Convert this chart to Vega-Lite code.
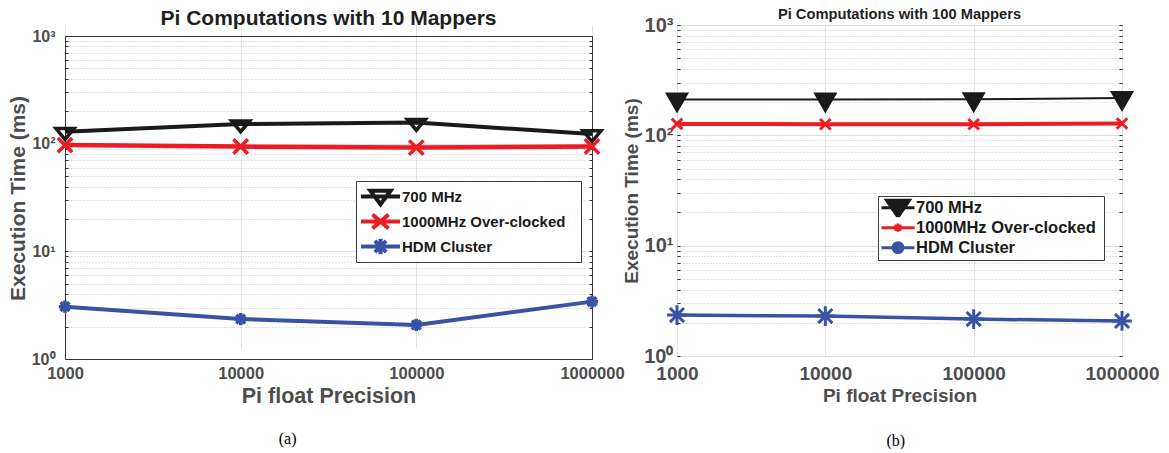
{
  "$schema": "https://vega.github.io/schema/vega-lite/v6.json",
  "padding": {"left": 7, "top": 6, "right": 0, "bottom": 0},
  "background": "white",
  "spacing": -3,
  "datasets": {
    "a": [
      {"precision": 1000, "time": 129, "series": "700 MHz"},
      {"precision": 10000, "time": 152, "series": "700 MHz"},
      {"precision": 100000, "time": 157, "series": "700 MHz"},
      {"precision": 1000000, "time": 123, "series": "700 MHz"},
      {"precision": 1000, "time": 97, "series": "1000MHz Over-clocked"},
      {"precision": 10000, "time": 94, "series": "1000MHz Over-clocked"},
      {"precision": 100000, "time": 92, "series": "1000MHz Over-clocked"},
      {"precision": 1000000, "time": 94, "series": "1000MHz Over-clocked"},
      {"precision": 1000, "time": 3.06, "series": "HDM Cluster"},
      {"precision": 10000, "time": 2.35, "series": "HDM Cluster"},
      {"precision": 100000, "time": 2.07, "series": "HDM Cluster"},
      {"precision": 1000000, "time": 3.41, "series": "HDM Cluster"}
    ],
    "b": [
      {"precision": 1000, "time": 211, "series": "700 MHz"},
      {"precision": 10000, "time": 211, "series": "700 MHz"},
      {"precision": 100000, "time": 212, "series": "700 MHz"},
      {"precision": 1000000, "time": 218, "series": "700 MHz"},
      {"precision": 1000, "time": 127, "series": "1000MHz Over-clocked"},
      {"precision": 10000, "time": 126, "series": "1000MHz Over-clocked"},
      {"precision": 100000, "time": 126, "series": "1000MHz Over-clocked"},
      {"precision": 1000000, "time": 128, "series": "1000MHz Over-clocked"},
      {"precision": 1000, "time": 2.35, "series": "HDM Cluster"},
      {"precision": 10000, "time": 2.30, "series": "HDM Cluster"},
      {"precision": 100000, "time": 2.16, "series": "HDM Cluster"},
      {"precision": 1000000, "time": 2.08, "series": "HDM Cluster"}
    ]
  },
  "resolve": {
    "scale": {"shape": "independent", "fill": "independent", "stroke": "independent"},
    "legend": {"shape": "independent", "fill": "independent", "stroke": "independent"}
  },
  "hconcat": [
    {
      "title": {"text": "(a)", "orient": "bottom", "font": "Liberation Serif", "fontSize": 16, "fontWeight": "normal", "color": "#000000", "offset": 24, "anchor": "middle", "dx": -28},
      "resolve": {
        "scale": {"shape": "independent", "stroke": "independent"},
        "legend": {"shape": "independent", "stroke": "independent"}
      },
      "vconcat": [
        {
          "width": 527,
          "height": 334,
          "view": {"stroke": null},
          "data": {"name": "a"},
          "title": {"text": "Pi Computations with 10 Mappers", "fontSize": 21, "offset": -4, "frame": "group"},
          "encoding": {
            "y": {
              "field": "time", "type": "quantitative",
              "scale": {"type": "log", "domain": [1, 1000], "nice": false, "range": [334, 11]}
            }
          },
          "layer": [
            {
              "transform": [{"filter": "datum.series === '700 MHz'"}],
              "mark": {"type": "line", "strokeWidth": 4, "color": "#1a1a1a"},
              "encoding": {
                "x": {
                  "field": "precision", "type": "quantitative",
                  "scale": {"type": "log", "domain": [1000, 1000000], "nice": false},
                  "axis": {"orient": "bottom", "values": [1000, 10000, 100000, 1000000], "format": "d", "labelFontSize": 16.5, "labelPadding": 6, "ticks": false, "grid": true, "gridColor": "#e3e3e3", "labelOverlap": false, "labelFlush": false, "domain": true, "domainColor": "#333333", "domainWidth": 1, "title": "Pi float Precision", "titleFontSize": 21.5, "titlePadding": 4}
                },
                "y": {
                  "field": "time", "type": "quantitative",
                  "axis": {
                    "orient": "left",
                    "values": [1, 2, 3, 4, 5, 6, 7, 8, 9, 10, 20, 30, 40, 50, 60, 70, 80, 90, 100, 200, 300, 400, 500, 600, 700, 800, 900, 1000],
                    "labelExpr": "datum.value == 1 ? '10⁰' : datum.value == 10 ? '10¹' : datum.value == 100 ? '10²' : datum.value == 1000 ? '10³' : ''",
                    "labelFontSize": 16, "labelPadding": 13, "labelOverlap": false,
                    "ticks": true, "tickSize": -3, "tickColor": "#333333",
                    "domain": true, "domainColor": "#333333", "domainWidth": 1,
                    "grid": true,
                    "gridColor": {"condition": {"test": "datum.value == 1 || datum.value == 10 || datum.value == 100 || datum.value == 1000", "value": "#dedede"}, "value": "#c4c4c4"},
                    "gridDash": {"condition": {"test": "datum.value == 1 || datum.value == 10 || datum.value == 100 || datum.value == 1000", "value": []}, "value": [1, 2]},
                    "title": "Execution Time (ms)", "titleFontSize": 21, "titlePadding": 3, "titleY": 173
                  }
                }
              }
            },
            {
              "transform": [{"filter": "datum.series === '1000MHz Over-clocked'"}],
              "mark": {"type": "line", "strokeWidth": 4.5, "color": "#ed1c24"},
              "encoding": {
                "x": {
                  "field": "precision", "type": "quantitative",
                  "scale": {"type": "log", "domain": [1000, 1000000], "nice": false},
                  "axis": {"orient": "top", "offset": -11, "labels": false, "ticks": false, "grid": false, "domain": true, "domainColor": "#333333", "domainWidth": 1, "title": null}
                },
                "y": {
                  "field": "time", "type": "quantitative",
                  "axis": {
                    "orient": "right",
                    "values": [1, 2, 3, 4, 5, 6, 7, 8, 9, 10, 20, 30, 40, 50, 60, 70, 80, 90, 100, 200, 300, 400, 500, 600, 700, 800, 900, 1000],
                    "labels": false, "grid": false, "title": null,
                    "domain": true, "domainColor": "#333333", "domainWidth": 1,
                    "ticks": true, "tickSize": -3, "tickColor": "#333333"
                  }
                }
              }
            },
            {
              "transform": [{"filter": "datum.series === 'HDM Cluster'"}],
              "mark": {"type": "line", "strokeWidth": 4, "color": "#3953a4"},
              "encoding": {
                "x": {"field": "precision", "type": "quantitative", "axis": null},
                "y": {"field": "time", "type": "quantitative", "axis": null}
              }
            },
            {
              "mark": {"type": "point", "size": 324, "strokeWidth": 3.5, "filled": false, "opacity": 1, "fill": "transparent"},
              "encoding": {
                "x": {"field": "precision", "type": "quantitative", "axis": null},
                "y": {"field": "time", "type": "quantitative", "axis": null},
                "stroke": {
                  "field": "series", "type": "nominal",
                  "scale": {"domain": ["700 MHz", "1000MHz Over-clocked", "HDM Cluster"], "range": ["#1a1a1a", "#ed1c24", "#3953a4"]},
                  "legend": null
                },
                "shape": {
                  "field": "series", "type": "nominal",
                  "scale": {
                    "domain": ["700 MHz", "1000MHz Over-clocked", "HDM Cluster"],
                    "range": [
                      "M-1,-0.35L1,-0.35L0,0.85Z",
                      "M-0.8,-0.8L0.8,0.8M-0.8,0.8L0.8,-0.8",
                      "M0,-0.68V0.68M-0.68,0H0.68M-0.49,-0.49L0.49,0.49M-0.49,0.49L0.49,-0.49"
                    ]
                  },
                  "legend": null
                }
              }
            },
            {
              "mark": {"type": "point", "size": 289, "strokeWidth": 4, "filled": false, "opacity": 0, "fill": "transparent"},
              "encoding": {
                "x": {"field": "precision", "type": "quantitative", "axis": null},
                "y": {"field": "time", "type": "quantitative", "axis": null},
                "stroke": {
                  "field": "series", "type": "nominal",
                  "scale": {"domain": ["700 MHz", "1000MHz Over-clocked", "HDM Cluster"], "range": ["#1a1a1a", "#ed1c24", "#3953a4"]},
                  "legend": {
                    "orient": "none", "legendX": 291, "legendY": 156, "direction": "vertical",
                    "title": "\u00a0", "titleOrient": "right", "titlePadding": 13, "titleFontSize": 1,
                    "symbolSize": 1521, "symbolStrokeWidth": 4, "symbolOpacity": 1,
                    "clipHeight": 25, "rowPadding": 0, "padding": 3,
                    "labelFont": "Liberation Sans", "labelFontSize": 15, "labelFontWeight": "bold", "labelColor": "#1a1a1a",
                    "labelOffset": 0, "labelLimit": 400,
                    "strokeColor": "#3c3c3c", "fillColor": "#ffffff"
                  }
                },
                "shape": {
                  "field": "series", "type": "nominal",
                  "scale": {
                    "domain": ["700 MHz", "1000MHz Over-clocked", "HDM Cluster"],
                    "range": [
                      "M-1,0H1M-0.52,-0.3L0.52,-0.3L0,0.4Z",
                      "M-1,0H1M-0.41,-0.36L0.41,0.36M-0.41,0.36L0.41,-0.36",
                      "M-1,0H1M0,-0.4V0.4M-0.4,0H0.4M-0.29,-0.29L0.29,0.29M-0.29,0.29L0.29,-0.29"
                    ]
                  },
                  "legend": {
                    "orient": "none", "legendX": 291, "legendY": 156, "direction": "vertical",
                    "title": "\u00a0", "titleOrient": "right", "titlePadding": 13, "titleFontSize": 1,
                    "symbolSize": 1521, "symbolStrokeWidth": 4, "symbolOpacity": 1,
                    "clipHeight": 25, "rowPadding": 0, "padding": 3,
                    "labelFont": "Liberation Sans", "labelFontSize": 15, "labelFontWeight": "bold", "labelColor": "#1a1a1a",
                    "labelOffset": 0, "labelLimit": 400,
                    "strokeColor": "#3c3c3c", "fillColor": "#ffffff"
                  }
                }
              }
            }
          ],
          "resolve": {
            "axis": {"x": "independent", "y": "independent"},
            "scale": {"shape": "independent", "stroke": "independent"},
            "legend": {"shape": "independent", "stroke": "independent"}
          }
        }
      ]
    },
    {
      "title": {"text": "(b)", "orient": "bottom", "font": "Liberation Serif", "fontSize": 16, "fontWeight": "normal", "color": "#000000", "offset": 27, "anchor": "middle", "dx": 5},
      "resolve": {
        "scale": {"fill": "independent", "stroke": "independent", "shape": "independent"},
        "legend": {"fill": "independent", "stroke": "independent", "shape": "independent"}
      },
      "vconcat": [
        {
          "width": 445,
          "height": 331,
          "data": {"name": "b"},
          "title": {"text": "Pi Computations with 100 Mappers", "fontSize": 14.7, "offset": -7, "frame": "group"},
          "encoding": {
            "x": {
              "field": "precision", "type": "quantitative",
              "scale": {"type": "log", "domain": [1000, 1000000], "nice": false},
              "axis": {"values": [1000, 10000, 100000, 1000000], "format": "d", "labelFontSize": 19, "labelPadding": 8, "ticks": false, "grid": true, "gridColor": "#e3e3e3", "labelOverlap": false, "labelFlush": false, "title": "Pi float Precision", "titleFontSize": 19, "titlePadding": 3}
            },
            "y": {
              "field": "time", "type": "quantitative",
              "scale": {"type": "log", "domain": [1, 1000], "nice": false}
            }
          },
          "layer": [
            {
              "transform": [{"filter": "datum.series === '700 MHz'"}],
              "mark": {"type": "line", "strokeWidth": 2, "color": "#1a1a1a"},
              "encoding": {
                "y": {
                  "field": "time", "type": "quantitative",
                  "axis": {
                    "orient": "left",
                    "values": [1, 2, 3, 4, 5, 6, 7, 8, 9, 10, 20, 30, 40, 50, 60, 70, 80, 90, 100, 200, 300, 400, 500, 600, 700, 800, 900, 1000],
                    "labelExpr": "datum.value == 1 ? '10⁰' : datum.value == 10 ? '10¹' : datum.value == 100 ? '10²' : datum.value == 1000 ? '10³' : ''",
                    "labelFontSize": 20, "labelPadding": 7, "labelOverlap": false,
                    "ticks": true, "tickSize": -3, "tickColor": "#333333",
                    "grid": true,
                    "gridColor": {"condition": {"test": "datum.value == 1 || datum.value == 10 || datum.value == 100 || datum.value == 1000", "value": "#dedede"}, "value": "#c4c4c4"},
                    "gridDash": {"condition": {"test": "datum.value == 1 || datum.value == 10 || datum.value == 100 || datum.value == 1000", "value": []}, "value": [1, 2]},
                    "title": "Execution Time (ms)", "titleFontSize": 19, "titlePadding": 2
                  }
                }
              }
            },
            {
              "transform": [{"filter": "datum.series === '1000MHz Over-clocked'"}],
              "mark": {"type": "line", "strokeWidth": 4, "color": "#ed1c24"},
              "encoding": {
                "y": {
                  "field": "time", "type": "quantitative",
                  "axis": {
                    "orient": "right",
                    "values": [1, 2, 3, 4, 5, 6, 7, 8, 9, 10, 20, 30, 40, 50, 60, 70, 80, 90, 100, 200, 300, 400, 500, 600, 700, 800, 900, 1000],
                    "labels": false, "grid": false, "domain": false, "title": null,
                    "ticks": true, "tickSize": -3, "tickColor": "#333333"
                  }
                }
              }
            },
            {
              "transform": [{"filter": "datum.series === 'HDM Cluster'"}],
              "mark": {"type": "line", "strokeWidth": 3.5, "color": "#3953a4"},
              "encoding": {"y": {"field": "time", "type": "quantitative", "axis": null}}
            },
            {
              "mark": {"type": "point", "size": 484, "strokeWidth": 3, "opacity": 1},
              "encoding": {
                "y": {"field": "time", "type": "quantitative", "axis": null},
                "fill": {
                  "field": "series", "type": "nominal",
                  "scale": {"domain": ["700 MHz", "1000MHz Over-clocked", "HDM Cluster"], "range": ["#1a1a1a", "#ed1c24", "#3953a4"]},
                  "legend": null
                },
                "stroke": {
                  "field": "series", "type": "nominal",
                  "scale": {"domain": ["700 MHz", "1000MHz Over-clocked", "HDM Cluster"], "range": ["#1a1a1a", "#ed1c24", "#3953a4"]},
                  "legend": null
                },
                "shape": {
                  "field": "series", "type": "nominal",
                  "scale": {
                    "domain": ["700 MHz", "1000MHz Over-clocked", "HDM Cluster"],
                    "range": [
                      "M-0.86,-0.5L0.86,-0.5L0,1Z",
                      "M-0.48,-0.48L0.48,0.48M-0.48,0.48L0.48,-0.48",
                      "M0,-0.9V0.9M-0.9,0H0.9M-0.64,-0.64L0.64,0.64M-0.64,0.64L0.64,-0.64"
                    ]
                  },
                  "legend": null
                }
              }
            },
            {
              "mark": {"type": "point", "size": 484, "strokeWidth": 3, "opacity": 0},
              "encoding": {
                "y": {"field": "time", "type": "quantitative", "axis": null},
                "fill": {
                  "field": "series", "type": "nominal",
                  "scale": {"domain": ["700 MHz", "1000MHz Over-clocked", "HDM Cluster"], "range": ["#1a1a1a", "transparent", "#3953a4"]},
                  "legend": {
                    "orient": "none", "legendX": 201, "legendY": 171, "direction": "vertical",
                    "title": "\u00a0", "titleOrient": "right", "titlePadding": 6, "titleFontSize": 1,
                    "symbolSize": 1089, "symbolStrokeWidth": 3, "symbolOpacity": 1,
                    "clipHeight": 19.3, "rowPadding": 0, "padding": 2,
                    "labelFont": "Liberation Sans", "labelFontSize": 16.5, "labelFontWeight": "bold", "labelColor": "#1a1a1a",
                    "labelOffset": 0, "labelLimit": 400,
                    "strokeColor": "#3c3c3c", "fillColor": "#ffffff"
                  }
                },
                "stroke": {
                  "field": "series", "type": "nominal",
                  "scale": {"domain": ["700 MHz", "1000MHz Over-clocked", "HDM Cluster"], "range": ["#1a1a1a", "#ed1c24", "#3953a4"]},
                  "legend": {
                    "orient": "none", "legendX": 201, "legendY": 171, "direction": "vertical",
                    "title": "\u00a0", "titleOrient": "right", "titlePadding": 6, "titleFontSize": 1,
                    "symbolSize": 1089, "symbolStrokeWidth": 3, "symbolOpacity": 1,
                    "clipHeight": 19.3, "rowPadding": 0, "padding": 2,
                    "labelFont": "Liberation Sans", "labelFontSize": 16.5, "labelFontWeight": "bold", "labelColor": "#1a1a1a",
                    "labelOffset": 0, "labelLimit": 400,
                    "strokeColor": "#3c3c3c", "fillColor": "#ffffff"
                  }
                },
                "shape": {
                  "field": "series", "type": "nominal",
                  "scale": {
                    "domain": ["700 MHz", "1000MHz Over-clocked", "HDM Cluster"],
                    "range": [
                      "M-1,0H1M-0.7,-0.45L0.7,-0.45L0,0.58Z",
                      "M-1,0H1M0,-0.25V0.25M-0.22,-0.13L0.22,0.13M-0.22,0.13L0.22,-0.13",
                      "M-1,0H1M0.3,0A0.3,0.3,0,1,1,-0.3,0A0.3,0.3,0,1,1,0.3,0Z"
                    ]
                  },
                  "legend": {
                    "orient": "none", "legendX": 201, "legendY": 171, "direction": "vertical",
                    "title": "\u00a0", "titleOrient": "right", "titlePadding": 6, "titleFontSize": 1,
                    "symbolSize": 1089, "symbolStrokeWidth": 3, "symbolOpacity": 1,
                    "clipHeight": 19.3, "rowPadding": 0, "padding": 2,
                    "labelFont": "Liberation Sans", "labelFontSize": 16.5, "labelFontWeight": "bold", "labelColor": "#1a1a1a",
                    "labelOffset": 0, "labelLimit": 400,
                    "strokeColor": "#3c3c3c", "fillColor": "#ffffff"
                  }
                }
              }
            }
          ],
          "resolve": {
            "axis": {"y": "independent"},
            "scale": {"shape": "independent", "stroke": "independent", "fill": "independent"},
            "legend": {"shape": "independent", "stroke": "independent", "fill": "independent"}
          }
        }
      ]
    }
  ],
  "config": {
    "font": "Liberation Sans",
    "view": {"stroke": "#333333", "strokeWidth": 1, "fill": "#ffffff"},
    "axis": {
      "labelFont": "Liberation Sans", "titleFont": "Liberation Sans",
      "labelFontWeight": "bold", "titleFontWeight": "bold",
      "labelColor": "#4d4d4d", "titleColor": "#4d4d4d",
      "domain": false
    },
    "title": {"font": "Liberation Sans", "fontWeight": "bold", "color": "#1f1f1f", "anchor": "middle"}
  }
}
